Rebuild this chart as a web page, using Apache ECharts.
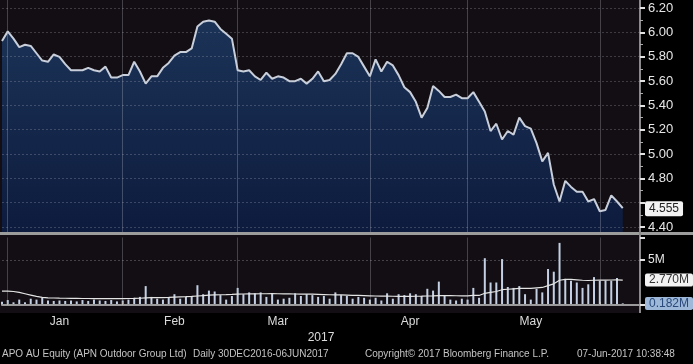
<!DOCTYPE html>
<html><head><meta charset="utf-8">
<script src="https://cdn.jsdelivr.net/npm/echarts@6/dist/echarts.min.js"></script>
<style>html,body{margin:0;padding:0;background:#000}#c{width:693px;height:364px}</style>
</head><body><div id="c"></div>
<script>
// ---- data ----
const startDate = '2016-12-30';
const endDate = '2017-06-07';
const holidays = ['2017-01-02','2017-01-26','2017-04-14','2017-04-17','2017-04-25'];

const prices = [5.93,6.01,5.95,5.88,5.90,5.89,5.83,5.77,5.76,5.82,
 5.80,5.74,5.69,5.69,5.69,5.71,5.69,5.68,5.72,5.63,
 5.63,5.65,5.65,5.76,5.68,5.58,5.64,5.64,5.71,5.75,
 5.81,5.84,5.84,5.87,6.05,6.09,6.10,6.09,6.03,5.99,
 5.95,5.69,5.68,5.69,5.64,5.61,5.67,5.62,5.64,5.63,
 5.60,5.60,5.62,5.58,5.62,5.68,5.60,5.61,5.66,5.74,
 5.83,5.83,5.80,5.72,5.64,5.78,5.68,5.76,5.73,5.65,
 5.55,5.51,5.43,5.30,5.38,5.56,5.52,5.47,5.47,5.49,
 5.46,5.46,5.51,5.43,5.35,5.19,5.25,5.12,5.19,5.16,
 5.30,5.23,5.21,5.09,4.94,5.01,4.75,4.61,4.78,4.73,
 4.69,4.69,4.61,4.63,4.53,4.54,4.66,4.61,4.555];

const volumes = [0.35,0.55,0.3,0.6,0.3,0.7,0.6,0.8,0.5,0.45,
 0.5,0.45,0.5,0.4,0.55,0.45,0.6,0.5,0.45,0.55,
 0.4,0.5,0.6,0.8,0.9,2.1,0.9,0.7,0.6,0.8,
 1.2,0.7,0.9,1.0,2.2,1.2,1.6,1.5,1.1,0.6,
 1.0,1.9,1.2,1.4,1.3,1.4,0.9,1.3,0.6,0.7,
 0.8,1.3,1.0,1.2,1.1,0.9,1.0,0.7,1.4,1.1,
 1.0,0.7,0.9,0.8,0.6,0.8,0.5,1.3,0.7,1.2,
 1.1,1.3,1.2,1.0,1.8,1.6,2.6,1.0,0.6,0.5,
 0.7,0.6,1.9,0.8,5.2,2.5,2.5,5.1,2.0,1.9,
 2.1,1.2,0.6,1.8,1.4,4.0,3.7,6.9,2.9,2.7,
 2.5,1.9,2.3,3.1,2.7,2.7,2.7,3.0,0.182];

const volumeAvg = [1.55,1.55,1.5,1.4,1.25,1.1,0.95,0.85,0.8,0.78,
 0.76,0.75,0.74,0.73,0.72,0.72,0.71,0.71,0.7,0.7,
 0.7,0.71,0.72,0.73,0.75,0.8,0.82,0.82,0.83,0.85,
 0.88,0.9,0.92,0.95,1.0,1.05,1.1,1.12,1.14,1.15,
 1.17,1.2,1.22,1.23,1.24,1.25,1.25,1.26,1.25,1.24,
 1.23,1.22,1.2,1.2,1.2,1.18,1.16,1.14,1.13,1.12,
 1.1,1.08,1.06,1.04,1.02,1.0,0.98,0.98,0.97,0.96,
 0.96,0.96,0.97,0.98,1.0,1.02,1.05,1.05,1.04,1.03,
 1.02,1.02,1.06,1.06,1.3,1.4,1.5,1.7,1.75,1.8,
 1.85,1.85,1.85,1.9,1.95,2.15,2.35,2.75,2.85,2.85,
 2.8,2.75,2.72,2.75,2.77,2.77,2.78,2.8,2.77];

const monthLabels = ['Jan','Feb','Mar','Apr','May'];
const monthLabelDates = ['2017-01-16','2017-02-14','2017-03-10','2017-04-12','2017-05-16'];
const yearLabel = '2017';
const priceTickMin = 4.4, priceTickMax = 6.2, priceTickStep = 0.2;
const volumeTick = 5;
const footer = ['APO AU Equity (APN Outdoor Group Ltd)','Daily 30DEC2016-06JUN2017','Copyright\u00A9 2017 Bloomberg Finance L.P.','07-Jun-2017 10:38:48'];

// ---- trading-day categories ----
function tradingDays(){
  const out = [];
  const d = new Date(startDate + 'T00:00:00Z');
  const end = new Date(endDate + 'T00:00:00Z');
  while (d <= end){
    const s = d.toISOString().slice(0,10);
    const wd = d.getUTCDay();
    if (wd !== 0 && wd !== 6 && holidays.indexOf(s) < 0) out.push(s);
    d.setUTCDate(d.getUTCDate() + 1);
  }
  return out;
}
const dates = tradingDays();
const N = dates.length;
const lastPrice = prices[N-1];
function isMonthStart(i){
  return i > 0 && i < N && dates[i].slice(5,7) !== dates[i-1].slice(5,7);
}
const XMAX = N + 2;

const FONT = 'Liberation Sans, Arial, sans-serif';
const gridLineV = {color:'rgba(185,185,200,0.30)', width:1};
const gridLineH = {color:'rgba(185,185,200,0.26)', width:1, type:[2,2]};
const hiddenLine = {color:'rgba(0,0,0,0)', width:1, type:'solid'};

const chart = echarts.init(document.getElementById('c'), null, {renderer:'canvas'});
chart.setOption({
  animation:false,
  backgroundColor:'#120e13',
  textStyle:{fontFamily:FONT},
  graphic:[
    {type:'rect', z:-10, shape:{x:641,y:0,width:52,height:364}, style:{fill:'#000'}},
    {type:'rect', z:-10, shape:{x:0,y:313,width:693,height:51}, style:{fill:'#000'}},
    {type:'rect', z:1, shape:{x:0,y:232,width:693,height:3}, style:{fill:'#9c9c9c'}},
    {type:'rect', z:1, shape:{x:639,y:0,width:2,height:313}, style:{fill:'#8a8a8a'}}
  ],
  title: footer.map((t,k)=>({
    text:t, left:[2,193,365,577][k], top:349, padding:0,
    textStyle:{color:'#c4c4c4', fontSize:10, fontWeight:'normal', fontFamily:FONT}
  })),
  grid:[
    {left:2, right:53, top:0, height:232},
    {left:2, right:53, top:8, height:219},
    {left:2, right:53, top:237.5, height:67.5}
  ],
  xAxis:[
    {gridIndex:0, type:'category', data:dates, boundaryGap:false, max:XMAX,
     axisLine:{show:false}, axisTick:{show:false}, axisLabel:{show:false},
     splitLine:{show:true, interval:(i)=>isMonthStart(i), lineStyle:gridLineV}, z:3},
    {gridIndex:1, type:'category', data:dates, boundaryGap:false, max:XMAX, show:false},
    {gridIndex:2, type:'category', data:dates, boundaryGap:false, max:XMAX, offset:7,
     axisLine:{show:true, lineStyle:{color:'#9a9a9a', width:2}},
     axisTick:{show:true, inside:true, length:3, interval:(i)=>isMonthStart(i), lineStyle:{color:'#bdbdbd', width:1}},
     axisLabel:{show:true, interval:(i,v)=>monthLabelDates.indexOf(v) >= 0,
       formatter:(v)=>{const k = monthLabelDates.indexOf(v); return k >= 0 ? monthLabels[k] : '';},
       color:'#dcdcdc', fontSize:12, margin:4},
     splitLine:{show:true, interval:(i)=>isMonthStart(i), lineStyle:gridLineV},
     name:yearLabel, nameLocation:'middle', nameGap:20,
     nameTextStyle:{color:'#dcdcdc', fontSize:12, verticalAlign:'top'}, z:3}
  ],
  yAxis:[
    {gridIndex:0, type:'value', min:4.3588, max:6.2683, show:false},
    {gridIndex:1, type:'value', position:'right', min:priceTickMin, max:priceTickMax, interval:priceTickStep,
     axisLine:{show:false},
     axisTick:{show:true, length:5, lineStyle:{color:'#e2e2e2', width:2}},
     minorTick:{show:true, splitNumber:2, length:3, lineStyle:{color:'#aaa', width:1}},
     axisLabel:{color:'#e6e6e6', fontSize:13, margin:8,
       formatter:(v)=> Math.abs(v - lastPrice) < 0.08 ? '' : v.toFixed(2)},
     splitLine:{show:true, lineStyle:gridLineH}, z:3},
    {gridIndex:2, type:'value', position:'right', min:0, max:7.5, interval:volumeTick,
     axisLine:{show:false},
     axisTick:{show:true, length:5, lineStyle:{color:'#e2e2e2', width:2}},
     axisLabel:{color:'#e6e6e6', fontSize:12, margin:8, formatter:(v)=> v === volumeTick ? volumeTick + 'M' : ''},
     splitLine:{show:false}, z:3}
  ],
  series:[
    {type:'line', xAxisIndex:0, yAxisIndex:0, data:prices, showSymbol:false, symbol:'none',
     lineStyle:{color:'#c8cfdb', width:2}, z:2,
     areaStyle:{color:new echarts.graphic.LinearGradient(0,0,0,1,[
       {offset:0, color:'#1f4374'},{offset:1, color:'#0b2150'}])},
     markLine:{silent:true, symbol:'none', zlevel:1, lineStyle:hiddenLine,
       label:{show:true, position:'end', distance:5, formatter:()=>lastPrice.toFixed(3),
         backgroundColor:'#f2f2f2', color:'#222', fontSize:12, padding:[2,4,1,4], borderRadius:2},
       data:[{yAxis:lastPrice}]}},
    {type:'line', xAxisIndex:1, yAxisIndex:1, data:[]},
    {type:'bar', xAxisIndex:2, yAxisIndex:2, data:volumes, barWidth:2,
     itemStyle:{color:'#c3d0e3'},
     markLine:{silent:true, symbol:'none', zlevel:1, lineStyle:hiddenLine,
       label:{show:true, position:'end', distance:5, formatter:()=>volumes[N-1].toFixed(3)+'M',
         backgroundColor:'#9db8d8', color:'#2a4a7a', fontSize:12, padding:[1,4,0,4], borderRadius:2},
       data:[
         {yAxis:volumes[N-1]},
         {yAxis:volumeTick, lineStyle:{color:'rgba(185,185,200,0.3)', width:1, type:[2,2]}, label:{show:false}}
       ]}},
    {type:'line', xAxisIndex:2, yAxisIndex:2, data:volumeAvg, showSymbol:false, symbol:'none',
     lineStyle:{color:'#e4e4e4', width:1.2}, z:3,
     markLine:{silent:true, symbol:'none', zlevel:1, lineStyle:hiddenLine,
       label:{show:true, position:'end', distance:5, formatter:()=>volumeAvg[N-1].toFixed(3)+'M',
         backgroundColor:'#f2f2f2', color:'#333', fontSize:12, padding:[1,4,0,4], borderRadius:2},
       data:[{yAxis:volumeAvg[N-1]}]}}
  ]
});
</script></body></html>
